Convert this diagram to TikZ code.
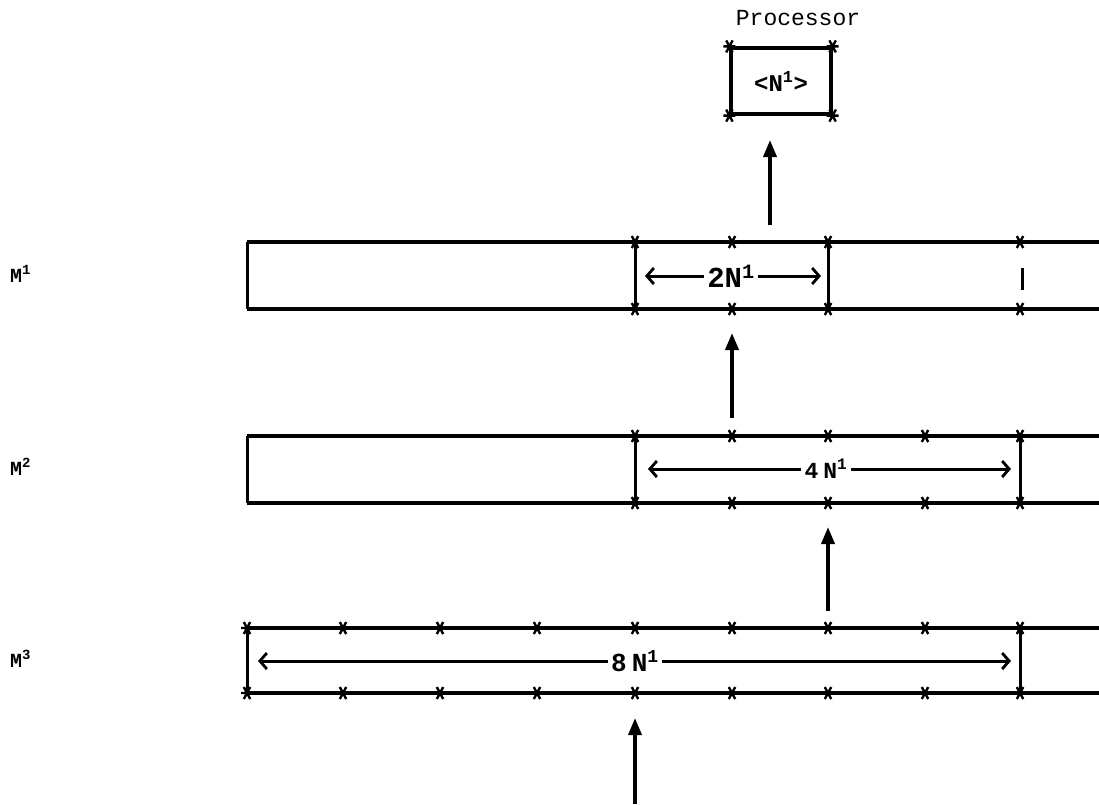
\documentclass[tikz,border=0pt]{standalone}
\usepackage{fontspec}
\setmonofont{Liberation Mono}
\usetikzlibrary{arrows.meta}
\begin{document}
\begin{tikzpicture}[x=1pt,y=-1pt,
  barline/.style={line width=3.2pt},
  sepline/.style={line width=3pt},
  uparrow/.style={line width=3.6pt,-{Triangle[length=17pt,width=13pt]}},
  spanarrow/.style={line width=3pt,-{Straight Barb[length=7pt,width=16pt,line width=2.8pt]}},
  lab/.style={font=\ttfamily\bfseries, inner sep=3pt},
  mlab/.style={font=\ttfamily\bfseries\fontsize{20}{20}\selectfont, anchor=west, inner sep=0pt},
  pics/astk/.style={code={\draw[line width=2.4pt] (-6,0)--(6,0) (-3.2,-6)--(3.2,6) (3.2,-6)--(-3.2,6);}}]
\useasboundingbox (0,0) rectangle (1099,804);

% Processor
\node[font=\ttfamily\fontsize{23}{23}\selectfont, inner sep=0pt] (ptitle) at (798,18) {Processor};
\node[draw, line width=3.2pt, minimum width=100pt, minimum height=66pt,
      font=\ttfamily\bfseries\fontsize{24}{24}\selectfont, inner sep=0pt] (proc) at (781,81) {<N\textsuperscript{1}>};
\foreach \c in {north west,north east,south west,south east} \pic at (proc.\c) {astk};

% Row labels
\node[mlab] (m1) at (10,274) {M\textsuperscript{1}};
\node[mlab] (m2) at (10,467) {M\textsuperscript{2}};
\node[mlab] (m3) at (10,659) {M\textsuperscript{3}};

% Bars: top and bottom lines
\foreach \t/\b/\n in {242/309/a,436/503/b,628/693/c}{
  \coordinate (\n tl) at (247,\t); \coordinate (\n tr) at (1099,\t);
  \coordinate (\n bl) at (247,\b); \coordinate (\n br) at (1099,\b);
  \draw[barline] (\n tl) -- (\n tr);
  \draw[barline] (\n bl) -- (\n br);
  \draw[sepline] (\n tl) -- (\n bl);
}
% M1 separators and stars
\foreach \x in {635,828} \draw[sepline] (\x,242) -- (\x,309);
\coordinate (tk1) at (1022,268); \coordinate (tk2) at (1022,290);
\draw[sepline] (tk1) -- (tk2);
\foreach \x in {635,732,828,1020} {\pic at (\x,242) {astk}; \pic at (\x,309) {astk};}
% M2
\foreach \x in {635,1020} \draw[sepline] (\x,436) -- (\x,503);
\foreach \x in {635,732,828,925,1020} {\pic at (\x,436) {astk}; \pic at (\x,503) {astk};}
% M3
\draw[sepline] (1020,628) -- (1020,693);
\foreach \x in {247,343,440,537,635,732,828,925,1020} {\pic at (\x,628) {astk}; \pic at (\x,693) {astk};}

% Span labels and arrows
\node[lab, font=\ttfamily\bfseries\fontsize{29}{29}\selectfont] (s1) at (731,276) {2N\textsuperscript{1}};
\coordinate (s1l) at (645,276); \coordinate (s1r) at (821,276);
\draw[spanarrow] (s1.west) -- (s1l);
\draw[spanarrow] (s1.east) -- (s1r);

\node[lab, font=\ttfamily\bfseries\fontsize{23}{23}\selectfont] (s2) at (826,469) {4\hspace{5pt}N\textsuperscript{1}};
\coordinate (s2l) at (648,469); \coordinate (s2r) at (1011,469);
\draw[spanarrow] (s2.west) -- (s2l);
\draw[spanarrow] (s2.east) -- (s2r);

\node[lab, font=\ttfamily\bfseries\fontsize{26}{26}\selectfont] (s3) at (635,661) {8\hspace{5pt}N\textsuperscript{1}};
\coordinate (s3l) at (258,661); \coordinate (s3r) at (1011,661);
\draw[spanarrow] (s3.west) -- (s3l);
\draw[spanarrow] (s3.east) -- (s3r);

% Up arrows
\coordinate (u0a) at (770,225); \coordinate (u0b) at (770,140);
\coordinate (u1a) at (732,418); \coordinate (u1b) at (732,333);
\coordinate (u2a) at (828,611); \coordinate (u2b) at (828,527);
\coordinate (u3a) at (635,804); \coordinate (u3b) at (635,718);
\draw[uparrow] (u0a) -- (u0b);
\draw[uparrow] (u1a) -- (u1b);
\draw[uparrow] (u2a) -- (u2b);
\draw[uparrow] (u3a) -- (u3b);
\end{tikzpicture}
\end{document}
